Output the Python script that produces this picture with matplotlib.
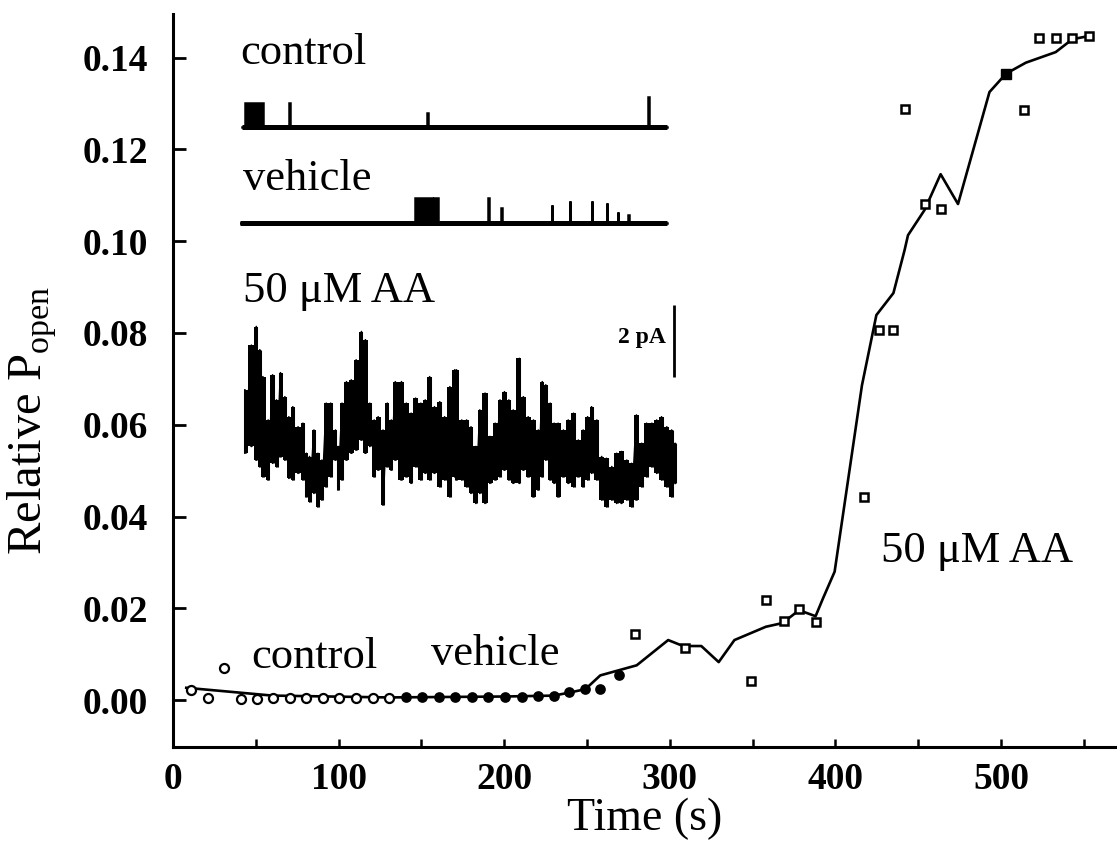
import numpy as np
import matplotlib
matplotlib.use('Agg')
from matplotlib import pyplot as plt

plt.rcParams['font.family'] = ['Liberation Serif', 'DejaVu Serif']
plt.rcParams['mathtext.fontset'] = 'custom'
plt.rcParams['mathtext.rm'] = 'Liberation Serif'

# ---- main plot data (time in s, relative Popen) ----
ctrl_t = [11, 21, 31, 41, 50.5, 60.5, 70.5, 80.5, 90.5, 100.5, 110.5, 120.5, 130.5]
ctrl_p = [0.0023, 0.0005, 0.0071, 0.0002, 0.0002, 0.0005, 0.0005, 0.0005,
          0.0005, 0.0005, 0.0005, 0.0005, 0.0005]

veh_t = [140.5, 150.5, 160.5, 170.5, 180.5, 190.5, 200.5, 210.5, 220.5, 230,
         239, 249, 258, 269]
veh_p = [0.0007, 0.0007, 0.0007, 0.0007, 0.0007, 0.0007, 0.0007, 0.0008,
         0.0009, 0.0010, 0.0017, 0.0024, 0.0025, 0.0054]

aa_t = [279, 309, 349, 358, 369, 378, 388, 417, 426, 435, 442, 454, 464,
        514, 523, 533, 543, 553]
aa_p = [0.0144, 0.0114, 0.0042, 0.0218, 0.0173, 0.0198, 0.0170, 0.0443,
        0.0806, 0.0806, 0.1287, 0.1082, 0.1071, 0.1285, 0.1443, 0.1443,
        0.1443, 0.1447]
aa_fill_t = [503]
aa_fill_p = [0.1365]

fit_t = [8, 60, 130, 200, 230, 240, 249, 258, 269, 280, 299, 308, 319, 329.5,
         339, 358, 368, 378, 388, 392.5, 399.5, 416, 424.7, 435, 441.7, 443.8,
         453.8, 463.5, 474, 493, 503, 515, 533, 543, 553]
fit_p = [0.0027, 0.0010, 0.0006, 0.0008, 0.0010, 0.0017, 0.0024, 0.0054,
         0.0065, 0.0076, 0.0131, 0.0118, 0.0118, 0.0083, 0.0131, 0.0160,
         0.0168, 0.0196, 0.0183, 0.0222, 0.0280, 0.0686, 0.0839, 0.0887,
         0.0980, 0.1013, 0.1068, 0.1146, 0.1081, 0.1325, 0.1365, 0.1389,
         0.1412, 0.1440, 0.1447]

# ---- inset traces (sweep time in % of record, current in pA incl. offset) ----
ctrl_base = 12.1
ctrl_span = (0.4, 97.0)
ctrl_events = [(1.1, 5.2, 0.67), (11.1, 11.4, 0.67), (42.5, 42.7, 0.39),
               (92.7, 92.9, 0.84)]

veh_base = 9.41
veh_span = (0.0, 97.0)
veh_events = [(39.8, 43.6, 0.70), (44.2, 45.0, 0.70), (56.3, 56.6, 0.70),
              (59.4, 59.6, 0.43), (70.8, 71.0, 0.50), (74.9, 75.1, 0.61),
              (79.9, 80.1, 0.61), (83.3, 83.5, 0.56), (85.8, 86.0, 0.30),
              (88.1, 88.3, 0.22)]

# 50 uM AA sweep: per column max / min current
aa_col_t = [1.1, 2.6, 3.7, 4.5, 5.2, 6.4, 7.4, 8.3, 9.2, 10.2, 11.1, 12.0,
            13.2, 14.3, 15.1, 15.8, 16.8, 17.7, 18.6, 19.6, 20.6, 21.7, 22.3,
            23.2, 24.2, 25.3, 26.4, 27.6, 28.5, 29.5, 30.5, 31.4, 32.5, 33.5,
            34.4, 35.3, 36.7, 37.8, 38.9, 39.9, 41.1, 42.1, 43.1, 44.2, 45.4,
            46.5, 47.7, 48.8, 49.2, 50.4, 51.5, 52.5, 53.6, 54.5, 55.7, 56.8,
            58.0, 59.1, 60.1, 61.1, 62.1, 63.5, 64.4, 65.5, 66.7, 67.8, 68.7,
            69.5, 70.5, 71.4, 72.3, 73.5, 74.6, 75.8, 76.9, 78.0, 79.0, 79.9,
            81.1, 82.2, 83.3, 84.5, 85.6, 86.7, 87.9, 89.0, 90.1, 91.3, 92.4,
            93.6, 94.7, 95.8, 97.0, 98.1, 98.9]
aa_col_hi = [4.75, 6.00, 6.52, 5.87, 5.12, 3.91, 5.17, 4.47, 5.23, 4.56, 4.00,
             4.28, 3.72, 3.82, 2.98, 2.89, 3.63, 2.98, 2.79, 4.38, 4.38, 3.63,
             3.17, 4.38, 4.98, 5.03, 5.59, 6.38, 6.15, 4.38, 3.91, 4.00, 3.63,
             4.38, 3.91, 4.98, 4.98, 4.38, 4.10, 4.52, 4.38, 4.47, 5.12, 4.28,
             4.42, 4.00, 4.84, 5.31, 5.31, 3.91, 3.91, 3.72, 3.17, 4.19, 4.66,
             3.45, 3.82, 4.47, 4.70, 4.47, 4.19, 5.63, 4.56, 4.00, 3.91, 3.63,
             4.98, 4.89, 4.38, 3.82, 3.82, 3.63, 3.91, 4.10, 3.35, 3.63, 4.00,
             4.28, 3.91, 2.89, 2.84, 2.61, 2.98, 3.03, 2.79, 2.70, 4.05, 3.26,
             3.82, 3.82, 3.91, 4.00, 3.72, 3.63, 3.26]
aa_col_lo = [2.98, 3.17, 2.79, 2.61, 2.33, 2.24, 2.70, 2.61, 2.89, 2.79, 2.28,
             2.24, 2.42, 2.24, 1.77, 1.63, 1.86, 1.49, 1.68, 2.05, 2.33, 2.79,
             1.96, 2.24, 2.79, 2.98, 3.07, 3.35, 2.98, 3.17, 2.33, 2.51, 1.54,
             2.61, 2.51, 2.79, 2.24, 2.33, 2.14, 2.61, 2.24, 2.42, 2.24, 2.42,
             2.05, 2.24, 1.77, 2.33, 2.24, 2.24, 2.05, 1.86, 1.58, 1.86, 1.58,
             2.14, 2.24, 2.33, 2.51, 2.24, 2.14, 2.14, 2.51, 2.33, 1.77, 1.96,
             2.33, 2.79, 2.24, 2.14, 1.77, 2.33, 2.14, 2.05, 2.33, 2.05, 2.24,
             2.42, 2.24, 1.68, 1.49, 1.68, 1.58, 1.58, 1.68, 1.49, 1.68, 2.05,
             2.33, 2.61, 2.42, 2.24, 2.05, 1.77, 2.14]
scale_bar_t = 98.7
scale_bar = (5.11, 7.11)  # 2 pA


def step_trace(span, events, base):
    # build an idealised single-channel record from open events
    t = [span[0]]
    i = [base]
    for s, e, amp in events:
        t += [s, s, e, e]
        i += [base, base + amp, base + amp, base]
    t.append(span[1])
    i.append(base)
    return np.array(t), np.array(i)


fig = plt.figure(figsize=(11.17, 8.52), dpi=100)
ax = fig.add_axes([173 / 1117, 1 - 747 / 852, 944 / 1117, 733 / 852])

ax.plot(fit_t, fit_p, color='black', lw=1.9, zorder=2)
ax.plot(ctrl_t, ctrl_p, 'o', ms=6.5, mfc='white', mec='black', mew=1.6, zorder=3)
ax.plot(veh_t, veh_p, 'o', ms=6.5, mfc='black', mec='black', mew=1.2, zorder=3)
ax.plot(aa_t, aa_p, 's', ms=6, mfc='white', mec='black', mew=1.8, zorder=3)
ax.plot(aa_fill_t, aa_fill_p, 's', ms=7, mfc='black', mec='black', zorder=3)

ax.set_xlim(0, 570)
ax.set_ylim(-0.0102, 0.1495)
for side in ['top', 'right']:
    ax.spines[side].set_visible(False)
for side in ['left', 'bottom']:
    ax.spines[side].set_linewidth(2.2)

ax.set_xticks([0, 100, 200, 300, 400, 500])
ax.set_xticks(np.arange(50, 560, 100), minor=True)
ax.set_yticks(np.arange(0, 0.141, 0.02))
ax.set_yticklabels(['%.2f' % v for v in np.arange(0, 0.141, 0.02)])
ax.tick_params(axis='y', direction='in', length=9, width=2, pad=18,
               labelsize=27)
ax.tick_params(axis='x', which='both', direction='in', length=6, width=1.8,
               pad=11, labelsize=27)
for lab in ax.get_xticklabels() + ax.get_yticklabels():
    lab.set_fontweight('bold')

ax.set_xlabel('Time (s)', fontsize=33, labelpad=0)
fig.text(32 / 1117, 1 - 420 / 852, r'Relative P$_{\mathrm{open}}$',
         rotation=90, fontsize=35, ha='center', va='center')

ax.text(47.5, 0.0070, 'control', fontsize=32)
ax.text(156, 0.0076, 'vehicle', fontsize=32)
ax.text(427.5, 0.0301, '50 \u03bcM AA', fontsize=32)

# ---- inset with single-channel records ----
ins = fig.add_axes([240 / 1117, 1 - 560 / 852, 440 / 1117, 540 / 852])
ins.set_xlim(0, 100)
ins.set_ylim(0, 15.08)
ins.axis('off')

for span, events, base in [(ctrl_span, ctrl_events, ctrl_base),
                           (veh_span, veh_events, veh_base)]:
    t, i = step_trace(span, events, base)
    ins.fill_between(t, base, i, color='black', lw=0)
    ins.plot(t, i, color='black', lw=1.8, solid_joinstyle='miter')
    ins.hlines(base, span[0], span[1], color='black', lw=3.6)

# dense record: each column a vertical stroke, strokes joined by a sawtooth
ins.fill_between(aa_col_t, aa_col_lo, aa_col_hi, step='mid', color='black',
                 lw=0)
ins.vlines(aa_col_t, aa_col_lo, aa_col_hi, color='black', lw=2.2)
zig_t = np.repeat(aa_col_t, 2)
zig_i = np.ravel(np.column_stack([aa_col_hi, aa_col_lo]))
ins.plot(zig_t, zig_i, color='black', lw=1.2)

ins.vlines(scale_bar_t, scale_bar[0], scale_bar[1], color='black', lw=2)
ins.text(96.8, np.mean(scale_bar) + 0.1, '2 pA', fontsize=17,
         fontweight='bold', ha='right', va='center')

ins.text(0, 13.85, 'control', fontsize=32)
ins.text(0.7, 10.34, 'vehicle', fontsize=32)
ins.text(0.7, 7.21, '50 \u03bcM AA', fontsize=32)

fig.savefig('out.png', dpi=100)
